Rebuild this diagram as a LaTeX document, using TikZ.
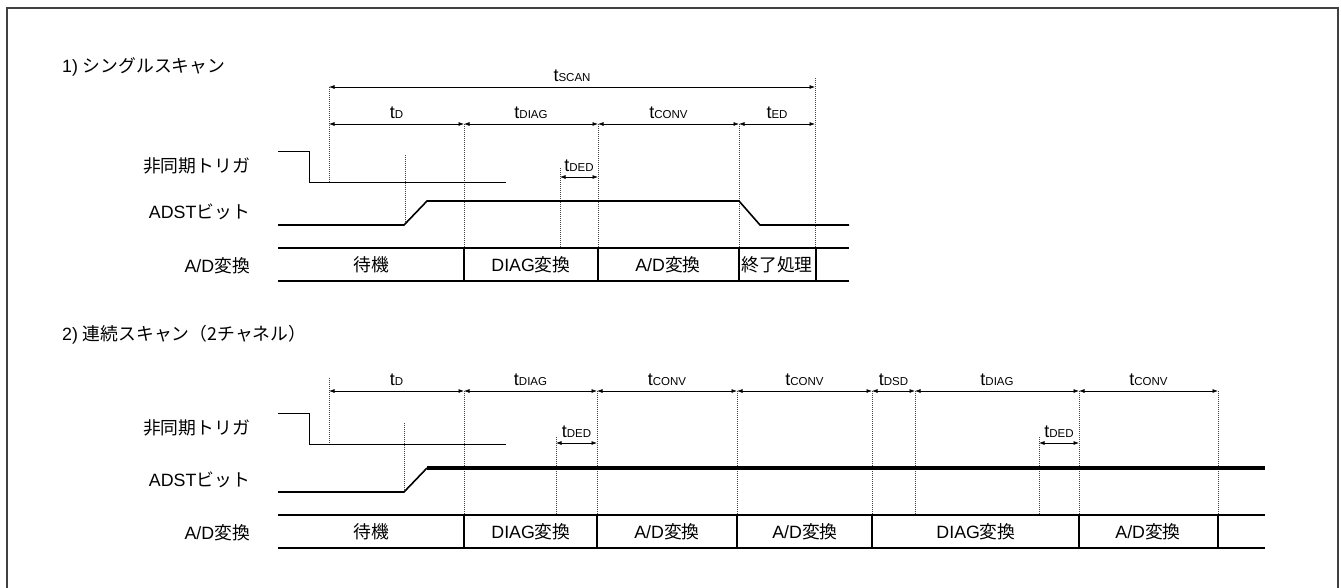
\documentclass[tikz,border=0pt]{standalone}
\usepackage{fontspec}
\setmainfont{Liberation Sans}
\newfontfamily\jpfont{Noto Sans CJK JP}
\usetikzlibrary{arrows.meta}

\newcommand{\jp}[1]{{\jpfont #1}}
\newcommand{\tsym}[1]{{\fontsize{18}{18}\selectfont t}{\fontsize{11.5}{12}\selectfont #1}}

\tikzset{
  dim/.style={{Latex[length=5.5pt,width=4pt]}-{Latex[length=5.5pt,width=4pt]}, line width=0.7pt},
  guide/.style={line width=0.7pt, dash pattern=on 1pt off 1pt, black!75},
  trig/.style={line width=1pt},
  adst/.style={line width=1.6pt},
  adsthi/.style={line width=3.5pt},
  row/.style={line width=1.2pt},
  siglab/.style={anchor=east},
  dimlab/.style={above=4pt}
}

\begin{document}
\begin{tikzpicture}[x=1pt, y=-1pt, every node/.style={font=\fontsize{17.8}{20}\selectfont, inner sep=1pt}]
  \useasboundingbox (0,0) rectangle (1341,587);
  % frame
  \draw[line width=1.8pt, black!75] (7,590) -- (7,8) -- (1338,8) -- (1338,590);

  % 1) single scan
  \node[anchor=west] (title1) at (61,67) {1) \jp{シングルスキャン}};
  \node[siglab] (trgA) at (251,166) {\jp{非同期トリガ}};
  \node[siglab] (adsA) at (251,212) {ADST\jp{ビット}};
  \node[siglab] (cnvA) at (251,266) {A/D\jp{変換}};

  \draw[guide] (329,87) -- (329,182);
  \draw[guide] (815,78) -- (815,248);
  \foreach \x in {464,598,739}
    \draw[guide] (\x,124) -- (\x,248);
  \draw[guide] (560,168) -- (560,248);
  \draw[guide] (405,155) -- (405,225);

  \draw[dim] (329,87) -- node[dimlab] (scanA) {\tsym{SCAN}} (815,87);
  \foreach \a/\b/\nm [count=\i] in {329/464/D, 464/598/DIAG, 598/739/CONV, 739/815/ED}
    \draw[dim] (\a,124) -- node[dimlab] (dA\i) {\tsym{\nm}} (\b,124);
  \draw[dim] (560,177) -- node[dimlab] (dedA) {\tsym{DED}} (598,177);

  \draw[trig] (278,151) -- (309,151) -- (309,182) -- (506,182);
  \draw[adst] (278,225) -- (404,225) -- (427,201) -- (739,201) -- (760,225) -- (849,225);

  \draw[row] (278,248) -- (849,248);
  \draw[row] (278,281) -- (849,281);
  \foreach \x in {464,598,739,816}
    \draw[row] (\x,248) -- (\x,281);
  \node (wA) at (371,265) {\jp{待機}};
  \node (xA) at (531,265) {DIAG\jp{変換}};
  \node (yA) at (668,265) {A/D\jp{変換}};
  \node (zA) at (777,265) {\jp{終了処理}};

  % 2) continuous scan
  \node[anchor=west] (title2) at (61,335) {2) \jp{連続スキャン（2チャネル）}};
  \node[siglab] (trgB) at (251,428) {\jp{非同期トリガ}};
  \node[siglab] (adsB) at (251,480) {ADST\jp{ビット}};
  \node[siglab] (cnvB) at (251,533) {A/D\jp{変換}};

  \draw[guide] (329,378) -- (329,444);
  \foreach \x in {464,597,737,872,915,1079,1218}
    \draw[guide] (\x,391) -- (\x,515);
  \foreach \x in {556,1039}
    \draw[guide] (\x,437) -- (\x,515);
  \draw[guide] (404,423) -- (404,492);

  \foreach \a/\b/\nm [count=\i] in {329/464/D, 464/597/DIAG, 597/737/CONV, 737/872/CONV, 872/915/DSD, 915/1079/DIAG, 1079/1218/CONV}
    \draw[dim] (\a,391) -- node[dimlab] (dB\i) {\tsym{\nm}} (\b,391);
  \draw[dim] (556,443) -- node[dimlab] (dedB1) {\tsym{DED}} (597,443);
  \draw[dim] (1039,443) -- node[dimlab] (dedB2) {\tsym{DED}} (1079,443);

  \draw[trig] (278,413) -- (309,413) -- (309,444) -- (506,444);
  \draw[adst] (278,492) -- (404,492) -- (427,468);
  \draw[adsthi] (427,468) -- (1265,468);

  \draw[row] (278,515) -- (1265,515);
  \draw[row] (278,548) -- (1265,548);
  \foreach \x in {464,597,737,872,1079,1218}
    \draw[row] (\x,515) -- (\x,548);
  \node (wB) at (371,532) {\jp{待機}};
  \node (xB) at (531,532) {DIAG\jp{変換}};
  \node (yB) at (667,532) {A/D\jp{変換}};
  \node (vB) at (805,532) {A/D\jp{変換}};
  \node (uB) at (976,532) {DIAG\jp{変換}};
  \node (zB) at (1148,532) {A/D\jp{変換}};
\end{tikzpicture}
\end{document}
